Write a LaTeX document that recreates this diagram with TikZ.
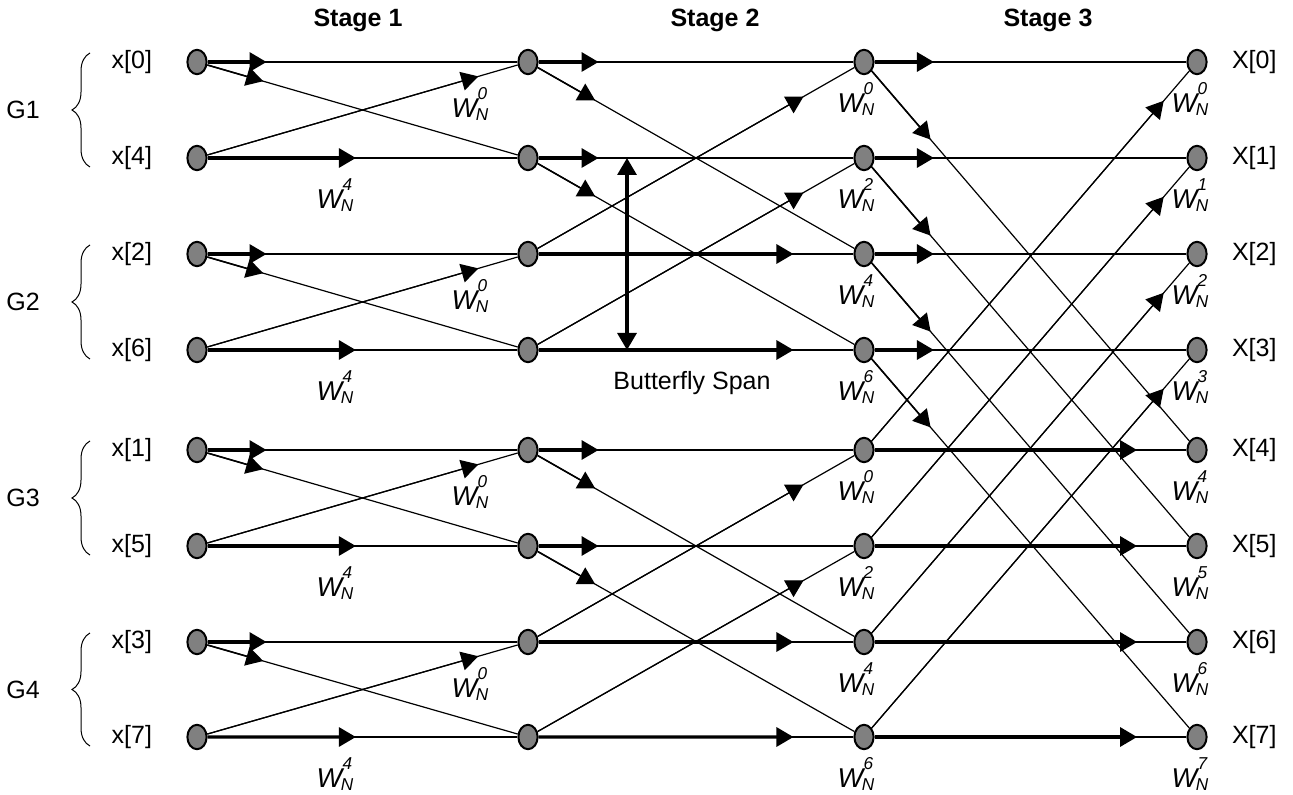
\documentclass[tikz,border=0pt]{standalone}
\usepackage{fontspec}
\setmainfont{Liberation Sans}
\usepackage{tikz}
\usetikzlibrary{arrows.meta,positioning,calc,shapes.geometric,decorations.pathreplacing}

% twiddle factor W_N^k, stacked sub/superscript
\newcommand{\twf}[1]{{\itshape\fontsize{13.6}{15}\selectfont W\kern-0.7pt\rlap{\raisebox{9pt}{\fontsize{8.6}{9}\selectfont\kern0.9pt #1}}\raisebox{-1.6pt}{\fontsize{8.6}{9}\selectfont N}}}

\begin{document}
\begin{tikzpicture}[x=0.5pt, y=-0.5pt,
  every node/.style={font=\fontsize{12.5}{15}\selectfont, inner sep=0pt},
  dot/.style={ellipse, draw, line width=1pt, fill=gray, minimum width=9.6pt, minimum height=12.2pt},
  wire/.style={line width=0.8pt},
  xwire/.style={line width=0.6pt},
  lead/.style={line width=1.6pt, -{Triangle[length=8.5pt,width=9.5pt]}},
  xlead/.style={line width=0.8pt, -{Triangle[length=8.5pt,width=9.5pt]}},
  stage/.style={font=\bfseries\fontsize{12.5}{15}\selectfont}]
\useasboundingbox (0,0) rectangle (1293,795);

% dots, one column per stage boundary
\foreach \col/\xx in {0/197,1/528,2/864,3/1197}
  \foreach \row/\yy in {0/62,1/158,2/254,3/350,4/450,5/546,6/642,7/737}
    \node[dot] (c\col-\row) at (\xx,\yy) {};

% inputs in bit-reversed order, outputs in natural order
\foreach \row/\n in {0/0,1/4,2/2,3/6,4/1,5/5,6/3,7/7} {
  \node[left=17pt of c0-\row] (in\row) {x[\n]};
  \node[right=12pt of c3-\row] (out\row) {X[\row]};
}

% groups of two inputs
\foreach \g in {1,...,4} {
  \pgfmathtruncatemacro{\tp}{2*\g-2}
  \pgfmathtruncatemacro{\bt}{2*\g-1}
  \draw[line width=0.5pt, decorate, decoration={brace, amplitude=9pt}]
    ($(c0-\bt)+(-107,9)$) -- ($(c0-\tp)+(-107,-9)$);
  \node (g\g) at ($(c0-\tp)!0.5!(c0-\bt)+(-174,0)$) {G\g};
}

\node[stage] (st1) at (358,20) {Stage 1};
\node[stage] (st2) at (715,20) {Stage 2};
\node[stage] (st3) at (1048,20) {Stage 3};

% butterflies: span 1, 2, 4
\foreach \s/\h/\pb/\pu in {1/1/0.48/0.85, 2/2/0.79/0.82, 3/4/0.82/0.9} {
  \pgfmathtruncatemacro{\src}{\s-1}
  \foreach \row in {0,...,7} {
    \pgfmathtruncatemacro{\bit}{mod(floor(\row/\h),2)}
    \ifnum\bit=0
      \pgfmathtruncatemacro{\mate}{\row+\h}
      \draw[wire] (c\src-\row) -- (c\s-\row);
      \draw[lead] (c\src-\row) -- ($(c\src-\row)!0.21!(c\s-\row)$);
      \draw[xwire] (c\src-\row) -- (c\s-\mate);
      \draw[xlead] (c\src-\row) -- ($(c\src-\row)!0.2!(c\s-\mate)$);
    \else
      \pgfmathtruncatemacro{\mate}{\row-\h}
      \draw[wire] (c\src-\row) -- (c\s-\row);
      \draw[lead] (c\src-\row) -- ($(c\src-\row)!\pb!(c\s-\row)$);
      \draw[xwire, -{Triangle[length=8.5pt,width=9.5pt]}] (c\src-\row) -- ($(c\src-\row)!\pu!(c\s-\mate)$);
      \draw[xwire] (c\src-\row) -- (c\s-\mate);
    \fi
  }
}

% twiddle factors
\foreach \g in {0,...,3} {
  \pgfmathtruncatemacro{\tp}{2*\g}
  \pgfmathtruncatemacro{\bt}{2*\g+1}
  \node (wa\tp) at ($(c1-\tp)+(-58,42)$) {\twf{0}};
  \node (wa\bt) at ($(c0-\bt)+(138,37)$) {\twf{4}};
}
\foreach \row in {0,...,7} {
  \pgfmathtruncatemacro{\k}{2*mod(\row,4)}
  \node (wb\row) at ($(c2-\row)+(-8,37)$) {\twf{\k}};
  \node (wc\row) at ($(c3-\row)+(-7,37)$) {\twf{\row}};
}

% span marker
\coordinate (spantop) at ($(c1-1)+(99,0)$);
\coordinate (spanbot) at ($(c1-3)+(99,0)$);
\draw[line width=1.6pt, {Triangle[length=8.5pt,width=9.5pt]}-{Triangle[length=8.5pt,width=9.5pt]}] (spantop) -- (spanbot);
\node (span) at ($(spanbot)+(65,33)$) {Butterfly Span};
\end{tikzpicture}
\end{document}
